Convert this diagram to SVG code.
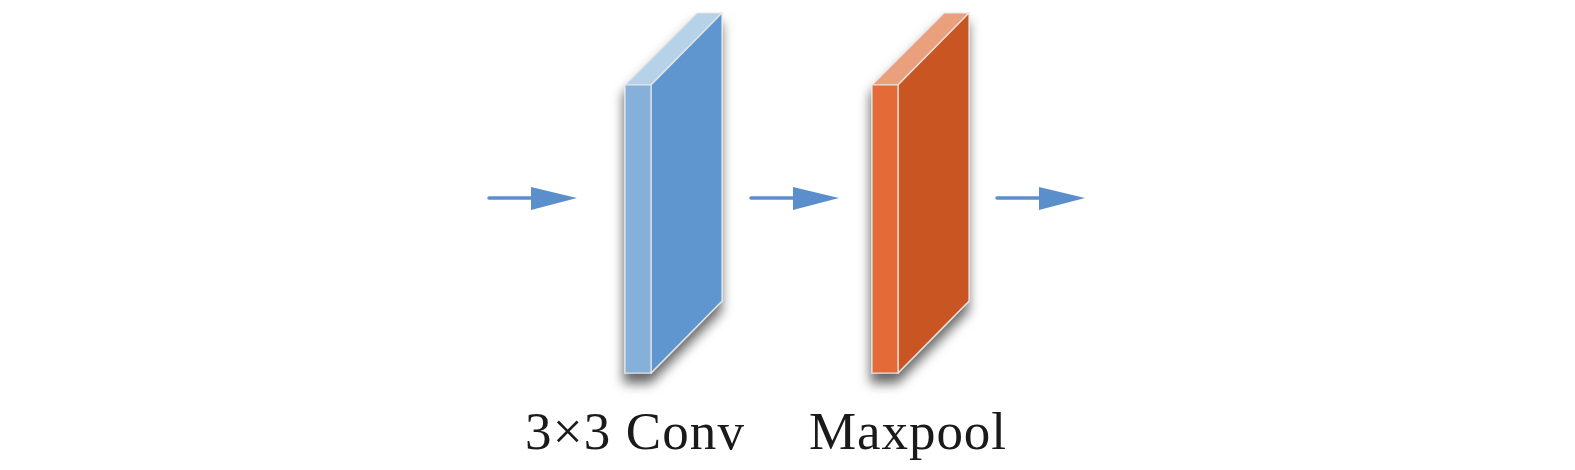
<svg xmlns="http://www.w3.org/2000/svg" width="1575" height="470" viewBox="0 0 1575 470">
<style>
.face{stroke:#E6E6E6;stroke-width:1.2;stroke-linejoin:round}
.lbl{font-family:"Liberation Serif","Times New Roman",serif;font-size:53px;fill:#1a1a1a}
.ln{stroke:#5B8FCB;stroke-width:3.5;stroke-linecap:round;fill:none}
.hd{fill:#5B8FCB}
</style>
<defs>
<filter id="sh" x="-60%" y="-20%" width="220%" height="150%">
<feDropShadow dx="-1" dy="10" stdDeviation="6" flood-color="#000" flood-opacity="0.6"/>
</filter>
</defs>
<rect width="1575" height="470" fill="#fff"/>
<g id="conv">
<g filter="url(#sh)">
<polygon class="face" points="625,85 651,85 722,13 697,13" fill="#B6D2E8"/>
<polygon class="face" points="651,85 722,13 722,301 651,373" fill="#6096D0"/>
<rect class="face" x="625" y="85" width="26" height="288" fill="#85B0D9"/>
</g>
<text class="lbl" x="525" y="449" textLength="219" lengthAdjust="spacing">3×3 Conv</text>
</g>
<g id="maxpool">
<g filter="url(#sh)">
<polygon class="face" points="872,85 898,85 969,13 944,13" fill="#EBA07D"/>
<polygon class="face" points="898,85 969,13 969,301 898,373" fill="#C85523"/>
<rect class="face" x="872" y="85" width="26" height="288" fill="#E46A38"/>
</g>
<text class="lbl" x="809" y="449" textLength="197" lengthAdjust="spacing">Maxpool</text>
</g>
<g id="connectors">
<line class="ln" x1="489" y1="198" x2="533" y2="198"/>
<polygon class="hd" points="531,187 577,198 531,210"/>
<line class="ln" x1="751" y1="198" x2="795" y2="198"/>
<polygon class="hd" points="793,187 839,198 793,210"/>
<line class="ln" x1="997" y1="198" x2="1041" y2="198"/>
<polygon class="hd" points="1039,187 1085,198 1039,210"/>
</g>
</svg>
